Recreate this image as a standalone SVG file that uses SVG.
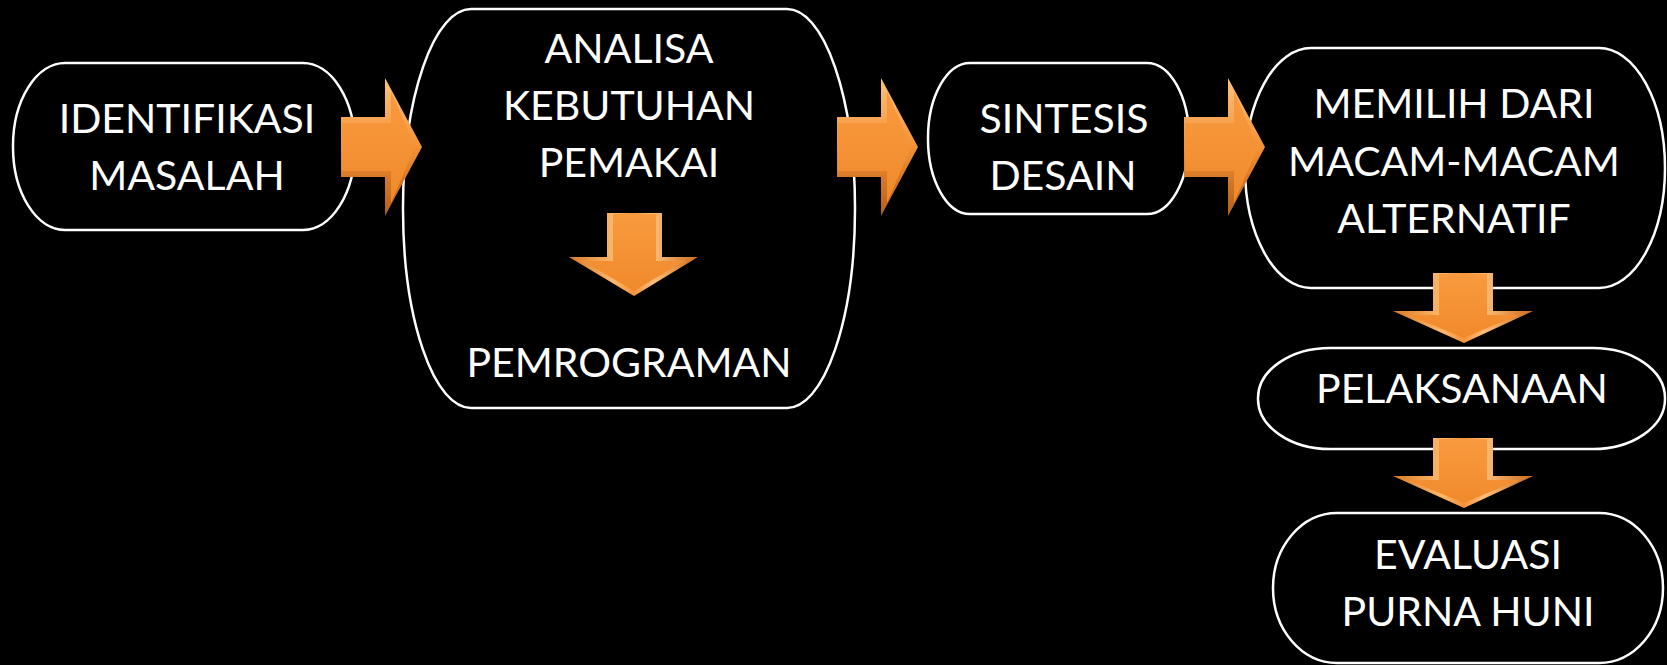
<svg xmlns="http://www.w3.org/2000/svg" width="1667" height="665" viewBox="0 0 1667 665">
  <defs>
    <style>
      .box { fill: #000; stroke: #fff; stroke-width: 2.5; }
      .lbl { font-family: Lato, "Liberation Sans", sans-serif; font-size: 41px; fill: #fff; text-anchor: middle; }
      .rim-h { fill: url(#rimH); }
      .rim-v { fill: url(#rimV); }
      .face { fill: url(#face); }
    </style>
    <!-- bevel rim of the right-pointing arrows: lit from above -->
    <linearGradient id="rimH" x1="0" y1="0" x2="0" y2="1">
      <stop offset="0" stop-color="#FFC27E"/>
      <stop offset="0.5" stop-color="#F49136"/>
      <stop offset="1" stop-color="#B45E16"/>
    </linearGradient>
    <!-- bevel rim of the down arrows: highlights on both shaft edges -->
    <linearGradient id="rimV" x1="0" y1="0" x2="1" y2="0">
      <stop offset="0" stop-color="#D97A25"/>
      <stop offset="0.35" stop-color="#FFB86C"/>
      <stop offset="0.5" stop-color="#F6923A"/>
      <stop offset="0.65" stop-color="#FFBE78"/>
      <stop offset="1" stop-color="#C96C1E"/>
    </linearGradient>
    <linearGradient id="face" x1="0" y1="0" x2="0" y2="1">
      <stop offset="0" stop-color="#F99A3E"/>
      <stop offset="1" stop-color="#F08A2C"/>
    </linearGradient>
    <path id="arrowRight" d="M0,-30 L44,-30 L44,-69 L81,0 L44,69 L44,30 L0,30 Z"/>
    <path id="arrowRightFace" d="M1,-24 L50,-24 L50,-56 L74,0 L50,56 L50,24 L1,24 Z"/>
  </defs>

  <rect width="1667" height="665" fill="#000"/>

  <g id="node-identifikasi">
    <rect class="box" x="13" y="63" width="342" height="167" rx="52" ry="83"/>
    <text class="lbl" x="187" y="133">IDENTIFIKASI</text>
    <text class="lbl" x="187" y="190">MASALAH</text>
  </g>

  <g id="node-analisa">
    <rect class="box" x="403" y="9" width="452" height="399" rx="68" ry="199"/>
    <text class="lbl" x="629" y="63">ANALISA</text>
    <text class="lbl" x="629" y="120">KEBUTUHAN</text>
    <text class="lbl" x="629" y="177">PEMAKAI</text>
    <text class="lbl" x="629" y="377">PEMROGRAMAN</text>
  </g>

  <g id="node-sintesis">
    <rect class="box" x="928" y="63" width="261" height="151" rx="42" ry="75"/>
    <text class="lbl" x="1064" y="133">SINTESIS</text>
    <text class="lbl" x="1063" y="190">DESAIN</text>
  </g>

  <g id="node-memilih">
    <rect class="box" x="1245" y="48" width="420" height="240" rx="66" ry="120"/>
    <text class="lbl" x="1454" y="118">MEMILIH DARI</text>
    <text class="lbl" x="1454" y="176">MACAM-MACAM</text>
    <text class="lbl" x="1454" y="233">ALTERNATIF</text>
  </g>

  <g id="node-pelaksanaan">
    <rect class="box" x="1258" y="348" width="407" height="101" rx="72" ry="50"/>
    <text class="lbl" x="1462" y="403">PELAKSANAAN</text>
  </g>

  <g id="node-evaluasi">
    <rect class="box" x="1273" y="513" width="390" height="150" rx="64" ry="75"/>
    <text class="lbl" x="1468" y="569">EVALUASI</text>
    <text class="lbl" x="1468" y="626">PURNA HUNI</text>
  </g>

  <g id="connectors">
    <!-- horizontal flow -->
    <g transform="translate(341,147)">
      <use href="#arrowRight" class="rim-h"/>
      <use href="#arrowRightFace" class="face"/>
    </g>
    <g transform="translate(837,147)">
      <use href="#arrowRight" class="rim-h"/>
      <use href="#arrowRightFace" class="face"/>
    </g>
    <g transform="translate(1184,147)">
      <use href="#arrowRight" class="rim-h"/>
      <use href="#arrowRightFace" class="face"/>
    </g>
    <!-- analisa to pemrograman -->
    <path class="rim-v" d="M607,213 L662,213 L662,257 L698,257 L634,296 L569,257 L607,257 Z"/>
    <path class="face" d="M613,214 L656,214 L656,261 L684,261 L634,291 L583,261 L613,261 Z"/>
    <!-- right column -->
    <path class="rim-v" d="M1433,273 L1493,273 L1493,311 L1533,311 L1464,343 L1393,311 L1433,311 Z"/>
    <path class="face" d="M1439,274 L1487,274 L1487,315 L1518,315 L1464,338 L1408,315 L1439,315 Z"/>
    <path class="rim-v" d="M1433,438 L1493,438 L1493,476 L1533,476 L1464,508 L1393,476 L1433,476 Z"/>
    <path class="face" d="M1439,439 L1487,439 L1487,480 L1518,480 L1464,503 L1408,480 L1439,480 Z"/>
  </g>
</svg>
